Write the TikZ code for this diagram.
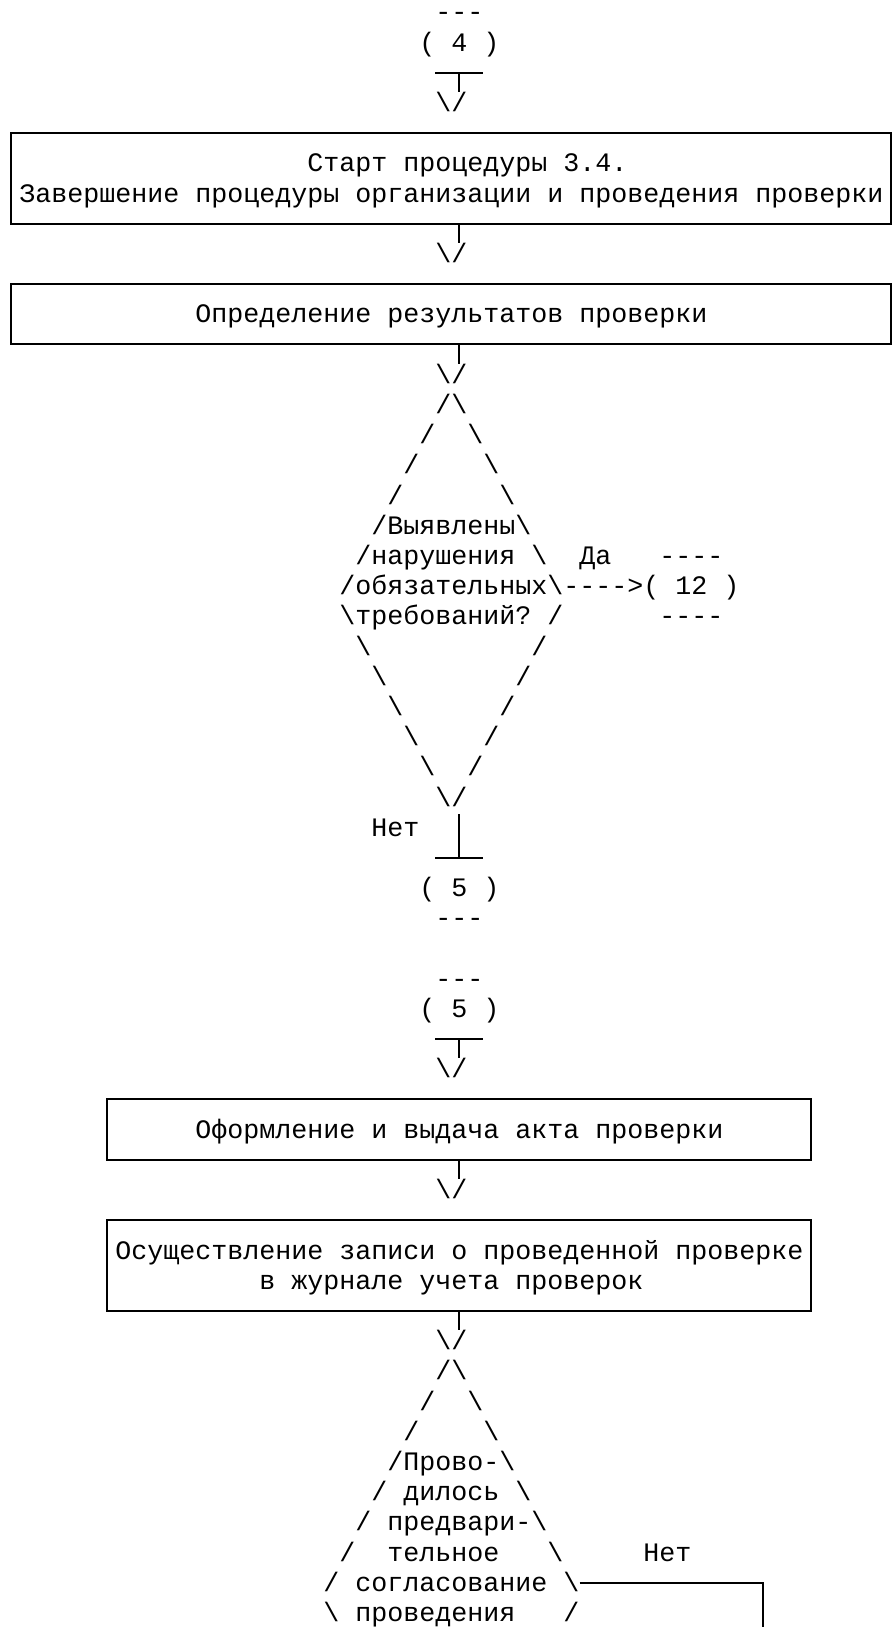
\documentclass[tikz,border=0pt]{standalone}
\usepackage{fontspec}
\setmonofont{Liberation Mono}[Ligatures=TeXOff]
\newcommand{\bsl}{\textbackslash}

\begin{document}
\begin{tikzpicture}[x=12pt,y=-22.65pt,
	txt/.style={font=\fontsize{20pt}{22.65pt}\selectfont\ttfamily\frenchspacing, inner sep=0pt, anchor=base west},
	frame/.style={draw, line width=1.5pt, inner sep=0pt, minimum width=#1},
	frame/.default=660pt,
	wire/.style={line width=1.5pt}]
	\useasboundingbox (-0.6875,-0.689) rectangle (55.125,53.185);
	\fill [white] (-0.6875,-0.689) rectangle (55.125,53.185);
	\coordinate (axis) at (28,0);
	% connector 4
	\node[txt] (c4top) at (26.5,0) {---};
	\node[txt] (c4) at (25.5,1) {( 4 )};
	\draw [wire] (26.5,1.712) -- (29.5,1.712);
	\node[txt] (a1) at (26.5,3) {\bsl/};
	\draw [wire] (28,1.712) -- (axis |- a1.north);
	% start of procedure
	\node[frame, minimum height=67.95pt] (start) at (27.5,5.212) {};
	\node[txt] (start1) at (18.5,5) {Старт процедуры 3.4.};
	\node[txt] (start2) at (0.5,6) {Завершение процедуры организации и проведения проверки};
	\node[txt] (a2) at (26.5,8) {\bsl/};
	\draw [wire] (start.south -| axis) -- (axis |- a2.north);
	\node[frame, minimum height=45.3pt] (result) at (27.5,9.712) {};
	\node[txt] (result1) at (11.5,10) {Определение результатов проверки};
	\node[txt] (a3) at (26.5,12) {\bsl/};
	\draw [wire] (result.south -| axis) -- (axis |- a3.north);
	% first decision
	\foreach \k in {0,...,3} {
		\node[txt] (d1l\k) at ({26.5-\k},{13+\k}) {/};
		\node[txt] (d1r\k) at ({27.5+\k},{13+\k}) {\bsl};
	}
	\node[txt] (d1a) at (22.5,17) {/Выявлены\bsl};
	\node[txt] (d1b) at (21.5,18) {/нарушения \bsl};
	\node[txt] (d1c) at (20.5,19) {/обязательных\bsl};
	\node[txt] (d1d) at (20.5,20) {\bsl требований? /};
	\foreach \k in {0,...,5} {
		\node[txt] (d1bl\k) at ({21.5+\k},{21+\k}) {\bsl};
		\node[txt] (d1br\k) at ({32.5-\k},{21+\k}) {/};
	}
	\node[txt] (yes1) at (35.5,18) {Да};
	\node[txt] (c12top) at (40.5,18) {----};
	\node[txt] (yesarr) at (34.5,19) {---->};
	\node[txt] (c12) at (39.5,19) {( 12 )};
	\node[txt] (c12bot) at (40.5,20) {----};
	\node[txt] (no1) at (22.5,27) {Нет};
	\draw [wire] (28,26.265) -- (28,27.712);
	\draw [wire] (26.5,27.712) -- (29.5,27.712);
	\node[txt] (c5a) at (25.5,29) {( 5 )};
	\node[txt] (c5abot) at (26.5,30) {---};
	% connector 5
	\node[txt] (c5btop) at (26.5,32) {---};
	\node[txt] (c5b) at (25.5,33) {( 5 )};
	\draw [wire] (26.5,33.712) -- (29.5,33.712);
	\node[txt] (a4) at (26.5,35) {\bsl/};
	\draw [wire] (28,33.712) -- (axis |- a4.north);
	\node[frame=528pt, minimum height=45.3pt] (act) at (28,36.712) {};
	\node[txt] (act1) at (11.5,37) {Оформление и выдача акта проверки};
	\node[txt] (a5) at (26.5,39) {\bsl/};
	\draw [wire] (act.south -| axis) -- (axis |- a5.north);
	\node[frame=528pt, minimum height=67.95pt] (log) at (28,41.212) {};
	\node[txt] (log1) at (6.5,41) {Осуществление записи о проведенной проверке};
	\node[txt] (log2) at (15.5,42) {в журнале учета проверок};
	\node[txt] (a6) at (26.5,44) {\bsl/};
	\draw [wire] (log.south -| axis) -- (axis |- a6.north);
	% second decision
	\foreach \k in {0,...,2} {
		\node[txt] (d2l\k) at ({26.5-\k},{45+\k}) {/};
		\node[txt] (d2r\k) at ({27.5+\k},{45+\k}) {\bsl};
	}
	\node[txt] (d2a) at (23.5,48) {/Прово-\bsl};
	\node[txt] (d2b) at (22.5,49) {/ дилось \bsl};
	\node[txt] (d2c) at (21.5,50) {/ предвари-\bsl};
	\node[txt] (d2d) at (20.5,51) {/~~тельное~~~\bsl};
	\node[txt] (d2e) at (19.5,52) {/ согласование \bsl};
	\node[txt] (d2f) at (19.5,53) {\bsl~проведения~~~/};
	\node[txt] (no2) at (39.5,51) {Нет};
	\coordinate (nobot) at (47,53.185);
	\draw [wire] (d2e.base east) ++(0,-0.288) -| (nobot);
\end{tikzpicture}
\end{document}
